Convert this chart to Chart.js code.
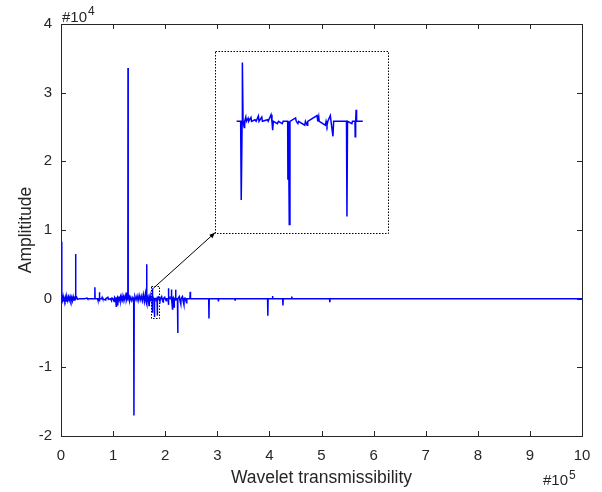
<!DOCTYPE html>
<html>
<head>
<meta charset="utf-8">
<script src="https://cdn.jsdelivr.net/npm/chart.js@4.4.1/dist/chart.umd.min.js"></script>
<style>
  html, body { margin: 0; padding: 0; background: #fff; }
  #wrap { position: relative; width: 602px; height: 492px; }
  #main { position: absolute; left: 0; top: 0; }
  #inset { position: absolute; }
</style>
</head>
<body>
<div id="wrap">
  <canvas id="main" width="602" height="492"></canvas>
  <canvas id="inset"></canvas>
</div>
<script>
// --- DATA (x in units of 1e5, amplitude in units of 1e4) ---
const xTicks = [0, 1, 2, 3, 4, 5, 6, 7, 8, 9, 10];
const yTicks = [-2, -1, 0, 1, 2, 3, 4];

// signal before the zoomed window
const leadX = [0, 0.012, 0.015, 0.018, 0.03, 0.04, 0.05, 0.06, 0.075, 0.09, 0.1, 0.115, 0.13, 0.145, 0.16, 0.175, 0.19,
  0.205, 0.22, 0.235, 0.25, 0.265, 0.275, 0.28, 0.285, 0.3, 0.32, 0.35, 0.45, 0.5, 0.51, 0.6, 0.645, 0.65, 0.655, 0.7,
  0.705, 0.71, 0.73, 0.735, 0.74, 0.745, 0.78, 0.79, 0.8, 0.85, 0.86, 0.9, 0.91, 0.95, 0.97, 0.98, 1.0, 1.02, 1.03, 1.05,
  1.06, 1.065, 1.08, 1.09, 1.095, 1.11, 1.12, 1.14, 1.15, 1.17, 1.18, 1.2, 1.21, 1.23, 1.245, 1.25, 1.255, 1.27, 1.283,
  1.286, 1.29, 1.31, 1.32, 1.34, 1.36, 1.38, 1.395, 1.4, 1.405, 1.42, 1.44, 1.46, 1.48, 1.5, 1.52, 1.54, 1.56, 1.58, 1.6,
  1.62, 1.635, 1.643, 1.645, 1.65, 1.655, 1.67, 1.69, 1.695, 1.71, 1.72, 1.735];
const leadY = [0, 0, 0.83, 0.01, -0.03, 0.02, -0.04, 0.01, -0.03, 0.02, -0.035, 0.02, -0.03, 0.025, -0.02, 0.03, -0.025,
  0.02, -0.03, 0.03, -0.02, 0.01, 0, 0.65, 0, 0.02, -0.01, 0, 0, 0.01, 0, 0, 0, 0.165, 0, 0,
  -0.02, 0, 0, 0.095, -0.04, 0, 0, 0.02, 0, -0.02, 0, 0.02, -0.01, 0, -0.03, 0.01, 0, -0.04, 0.02, 0,
  -0.11, 0, 0.02, -0.1, 0, 0.03, -0.02, 0.03, -0.03, 0.04, -0.02, 0.03, -0.03, 0.03, 0, 0.09, -0.02, 0.02, 0,
  3.36, 0, 0.03, -0.03, 0.02, -0.03, 0.02, 0, -1.7, 0, 0.03, -0.02, 0.04, -0.03, 0.05, -0.02, 0.04, -0.03, 0.06, -0.04,
  0.07, -0.05, 0, 0.5, -0.08, 0, 0.03, -0.1, 0, 0.05, -0.02, 0];

// zoomed window (shown in the inset)
const zoomX = [1.748, 1.7515, 1.752, 1.7528, 1.753, 1.7536, 1.7546, 1.755, 1.756, 1.7565, 1.758, 1.7585, 1.7605, 1.761,
  1.764, 1.765, 1.767, 1.7675, 1.7699, 1.7705, 1.775, 1.7755, 1.778, 1.7788, 1.7794, 1.78, 1.7835, 1.7845, 1.7878, 1.7885,
  1.7925, 1.7927, 1.7932, 1.7939, 1.7945, 1.7994, 1.8, 1.8014, 1.802, 1.8074, 1.808, 1.8095, 1.81, 1.8181, 1.8188, 1.8196,
  1.82, 1.8254, 1.826, 1.8268, 1.8275, 1.8297, 1.8303, 1.832, 1.8326, 1.8438, 1.8442, 1.8447, 1.8485, 1.849, 1.8512,
  1.8514, 1.8518, 1.8522, 1.8526, 1.858];
const zoomY = [0, 0, -0.204, 0, 0.153, 0, -0.016, 0, 0.011, 0, 0.008, 0, 0.01, 0,
  0.004, 0, 0.014, 0, 0.011, 0, 0.004, 0, 0.017, 0, -0.023, 0, -0.006, 0, -0.006, 0,
  0, -0.152, 0, -0.268, 0, 0.009, 0, -0.006, 0, -0.01, 0, -0.01, 0, 0.015, 0, 0.012,
  0, -0.01, 0, -0.01, 0, 0.015, 0, -0.039, 0, 0, -0.247, 0, -0.006, 0, 0,
  -0.04, 0, 0.03, 0, 0];

// signal after the zoomed window
const tailX = [1.87, 1.875, 1.9, 1.905, 1.93, 1.935, 1.96, 1.965, 1.99, 1.995, 2.02, 2.025, 2.055, 2.06, 2.065, 2.07, 2.09,
  2.095, 2.115, 2.12, 2.125, 2.14, 2.145, 2.155, 2.165, 2.17, 2.175, 2.195, 2.2, 2.205, 2.21, 2.235, 2.24, 2.245, 2.27,
  2.275, 2.3, 2.305, 2.33, 2.335, 2.36, 2.365, 2.38, 2.385, 2.41, 2.415, 2.475, 2.48, 2.485, 2.835, 2.84, 2.845, 3.015,
  3.02, 3.025, 3.335, 3.34, 3.345, 3.965, 3.97, 3.975, 4.055, 4.06, 4.065, 4.255, 4.26, 4.265, 4.425, 4.43, 4.435, 5.155,
  5.16, 5.165, 10];
const tailY = [0.02, 0, -0.04, 0, 0.03, 0, -0.05, 0, 0.02, 0, -0.03, 0, 0, 0.15, -0.09, 0, 0.02,
  0, 0, 0.135, 0, -0.15, 0, 0.02, 0, -0.12, 0, 0, 0.13, -0.03, 0, 0, -0.5, 0, 0.03,
  0, -0.08, 0, 0.03, 0, -0.09, 0, 0.02, 0, -0.06, 0, 0, 0.1, 0, 0, -0.29, 0, 0,
  -0.04, 0, 0, -0.02, 0, 0, -0.25, 0, 0, 0.04, 0, 0, -0.1, 0, 0, 0.03, 0, 0,
  -0.05, 0, 0];

// limits of the zoomed window and where the inset sits (main-axis units)
const zoomXRange = [1.73, 1.88];
const zoomYRange = [-0.29, 0.18];
const insetXRange = [2.955, 6.28];
const insetYRange = [0.96, 3.61];
const arrowFrom = { x: 1.77, y: 0.15 };

// --- STYLE ---
const ink = '#262626';
const blue = '#0000ff';
const fontFamily = '"Liberation Sans", Arial, Helvetica, sans-serif';

const toPoints = (xs, ys) => xs.map((x, i) => ({ x, y: ys[i] }));
const signal = [...toPoints(leadX, leadY), ...toPoints(zoomX, zoomY), ...toPoints(tailX, tailY)];

// "#10" with a raised exponent
const drawExponent = (ctx, text, exp, left, baseline) => {
  ctx.font = `15px ${fontFamily}`;
  ctx.fillText(text, left, baseline);
  const w = ctx.measureText(text).width;
  ctx.font = `12px ${fontFamily}`;
  ctx.fillText(exp, left + w + 1, baseline - 6.5);
};

// box with inward ticks, dotted zoom boxes, arrow, exponent labels
const frame = {
  id: 'frame',
  afterDatasetsDraw(chart) {
    const { ctx, chartArea: a, scales: { x, y } } = chart;
    ctx.save();
    ctx.strokeStyle = ink;
    ctx.lineWidth = 1;
    ctx.strokeRect(Math.round(a.left) + 0.5, Math.round(a.top) + 0.5, Math.round(a.right - a.left), Math.round(a.bottom - a.top));
    const tl = 5;
    ctx.beginPath();
    x.ticks.forEach(t => {
      const px = Math.round(x.getPixelForValue(t.value)) + 0.5;
      ctx.moveTo(px, a.bottom); ctx.lineTo(px, a.bottom - tl);
      ctx.moveTo(px, a.top); ctx.lineTo(px, a.top + tl);
    });
    y.ticks.forEach(t => {
      const py = Math.round(y.getPixelForValue(t.value)) + 0.5;
      ctx.moveTo(a.left, py); ctx.lineTo(a.left + tl, py);
      ctx.moveTo(a.right, py); ctx.lineTo(a.right - tl, py);
    });
    ctx.stroke();

    // dotted boxes
    ctx.setLineDash([1.5, 1.5]);
    ctx.strokeStyle = '#000';
    const box = (xr, yr) => {
      const l = x.getPixelForValue(xr[0]), r = x.getPixelForValue(xr[1]);
      const t = y.getPixelForValue(yr[1]), b = y.getPixelForValue(yr[0]);
      ctx.strokeRect(Math.round(l) + 0.5, Math.round(t) + 0.5, Math.round(r - l), Math.round(b - t));
    };
    box(zoomXRange, zoomYRange);
    box(insetXRange, insetYRange);
    ctx.setLineDash([]);

    // arrow to the inset
    const x0 = x.getPixelForValue(arrowFrom.x), y0 = y.getPixelForValue(arrowFrom.y);
    const x1 = x.getPixelForValue(insetXRange[0]), y1 = y.getPixelForValue(insetYRange[0]);
    const ang = Math.atan2(y1 - y0, x1 - x0);
    ctx.lineWidth = 1;
    ctx.beginPath(); ctx.moveTo(x0, y0); ctx.lineTo(x1, y1); ctx.stroke();
    ctx.fillStyle = '#000';
    ctx.beginPath();
    ctx.moveTo(x1, y1);
    ctx.lineTo(x1 - 6 * Math.cos(ang - 0.4), y1 - 6 * Math.sin(ang - 0.4));
    ctx.lineTo(x1 - 6 * Math.cos(ang + 0.4), y1 - 6 * Math.sin(ang + 0.4));
    ctx.closePath(); ctx.fill();

    // exponent labels
    ctx.fillStyle = ink;
    ctx.textBaseline = 'alphabetic';
    ctx.textAlign = 'left';
    drawExponent(ctx, '#10', '4', a.left + 1, a.top - 2.5);
    drawExponent(ctx, '#10', '5', a.right - 39, 485);
    ctx.restore();
  }
};

const mainChart = new Chart(document.getElementById('main'), {
  type: 'line',
  data: {
    datasets: [{ data: signal, borderColor: blue, borderWidth: 1.5, pointRadius: 0, tension: 0 }]
  },
  options: {
    responsive: false,
    animation: false,
    devicePixelRatio: 1,
    layout: { padding: { top: 24, right: 20, left: 0, bottom: 0 } },
    plugins: { legend: { display: false }, tooltip: { enabled: false } },
    scales: {
      x: {
        type: 'linear', min: 0, max: 10,
        afterBuildTicks: s => { s.ticks = xTicks.map(v => ({ value: v })); },
        afterFit: s => { s.height = 56; },
        grid: { display: false, drawTicks: false },
        border: { display: false },
        ticks: { color: ink, font: { family: fontFamily, size: 15 }, padding: 11, maxRotation: 0 },
        title: { display: true, text: 'Wavelet transmissibility', color: ink, font: { family: fontFamily, size: 17.5 }, padding: { top: 0, bottom: 3 } }
      },
      y: {
        type: 'linear', min: -2, max: 4,
        afterBuildTicks: s => { s.ticks = yTicks.map(v => ({ value: v })); },
        afterFit: s => { s.width = 61; },
        grid: { display: false, drawTicks: false },
        border: { display: false },
        ticks: { color: ink, font: { family: fontFamily, size: 15 }, padding: 9 },
        title: { display: true, text: 'Amplititude', color: ink, font: { family: fontFamily, size: 17.5 }, padding: { top: 16, bottom: 0 } }
      }
    }
  },
  plugins: [frame]
});

// --- INSET ---
const xs = mainChart.scales.x, ys = mainChart.scales.y;
const insetLeft = Math.round(xs.getPixelForValue(insetXRange[0])) + 1;
const insetTop = Math.round(ys.getPixelForValue(insetYRange[1])) + 1;
const insetW = Math.round(xs.getPixelForValue(insetXRange[1])) - insetLeft;
const insetH = Math.round(ys.getPixelForValue(insetYRange[0])) - insetTop;
const insetCanvas = document.getElementById('inset');
insetCanvas.width = insetW;
insetCanvas.height = insetH;
insetCanvas.style.left = insetLeft + 'px';
insetCanvas.style.top = insetTop + 'px';

new Chart(insetCanvas, {
  type: 'line',
  data: {
    datasets: [{ data: toPoints(zoomX, zoomY), borderColor: blue, borderWidth: 1.5, pointRadius: 0, tension: 0 }]
  },
  options: {
    responsive: false,
    animation: false,
    devicePixelRatio: 1,
    layout: { padding: 0 },
    plugins: { legend: { display: false }, tooltip: { enabled: false } },
    scales: {
      x: { type: 'linear', min: zoomXRange[0], max: zoomXRange[1], display: false },
      y: { type: 'linear', min: zoomYRange[0], max: zoomYRange[1], display: false }
    }
  }
});
</script>
</body>
</html>
